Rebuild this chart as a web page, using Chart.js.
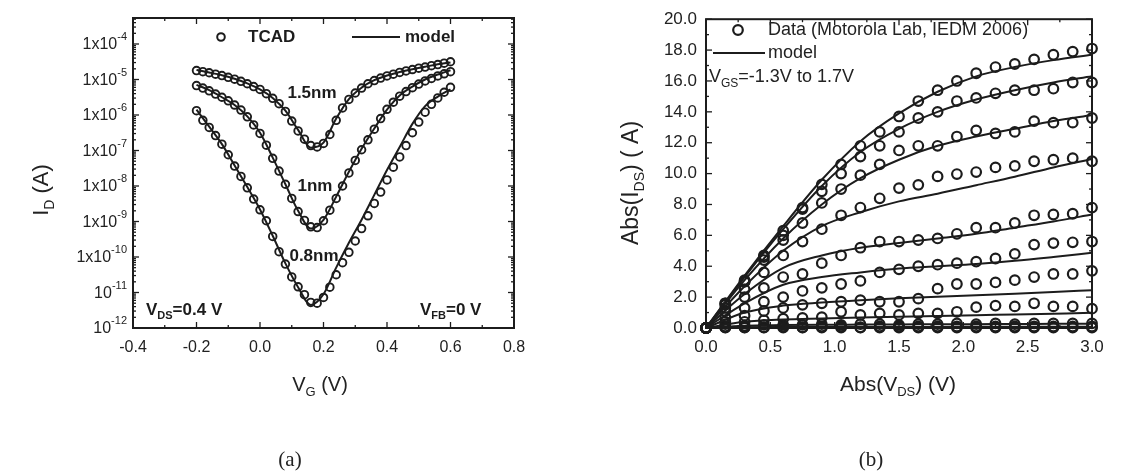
<!DOCTYPE html>
<html>
<head>
<meta charset="utf-8">
<script src="https://cdn.jsdelivr.net/npm/chart.js@4.4.0/dist/chart.umd.min.js"></script>
<style>
  body { margin: 0; background: #fff; }
  #wrap { position: relative; width: 1140px; height: 473px; overflow: hidden; }
  canvas { position: absolute; top: 0; }
</style>
</head>
<body>
<div id="wrap">
  <canvas id="chartA" width="560" height="473" style="left:0"></canvas>
  <canvas id="chartB" width="580" height="473" style="left:560px"></canvas>
</div>
<script>
// ---------- panel (a): I_D vs V_G, three oxide thicknesses ----------
const vg = [-0.20,-0.18,-0.16,-0.14,-0.12,-0.10,-0.08,-0.06,-0.04,-0.02,0.00,0.02,0.04,0.06,0.08,0.10,0.12,0.14,0.16,0.18,
            0.20,0.22,0.24,0.26,0.28,0.30,0.32,0.34,0.36,0.38,0.40,0.42,0.44,0.46,0.48,0.50,0.52,0.54,0.56,0.58,0.60];
const tcad15 = [1.78e-5,1.66e-5,1.55e-5,1.41e-5,1.29e-5,1.15e-5,1.02e-5,8.91e-6,7.59e-6,6.31e-6,5.25e-6,3.98e-6,2.95e-6,2.09e-6,1.26e-6,6.76e-7,3.55e-7,2.09e-7,1.38e-7,1.26e-7,
                1.58e-7,2.82e-7,7.08e-7,1.58e-6,2.75e-6,4.17e-6,5.75e-6,7.59e-6,9.33e-6,1.10e-5,1.26e-5,1.41e-5,1.58e-5,1.74e-5,1.91e-5,2.09e-5,2.24e-5,2.45e-5,2.63e-5,2.88e-5,3.16e-5];
const tcad10 = [6.76e-6,5.75e-6,4.79e-6,3.89e-6,3.16e-6,2.51e-6,1.91e-6,1.38e-6,8.91e-7,5.25e-7,3.02e-7,1.41e-7,6.03e-8,2.63e-8,1.12e-8,4.47e-9,1.91e-9,1.07e-9,7.08e-10,6.76e-10,
                1.05e-9,2.09e-9,4.47e-9,1.0e-8,2.34e-8,5.25e-8,1.05e-7,2.0e-7,3.98e-7,7.94e-7,1.45e-6,2.29e-6,3.39e-6,4.57e-6,5.89e-6,7.41e-6,9.12e-6,1.07e-5,1.26e-5,1.45e-5,1.66e-5];
const tcad08 = [1.32e-6,7.08e-7,4.47e-7,2.63e-7,1.51e-7,7.59e-8,3.63e-8,1.86e-8,8.91e-9,4.27e-9,2.14e-9,1.05e-9,3.80e-10,1.41e-10,6.31e-11,2.75e-11,1.45e-11,8.71e-12,5.25e-12,5.01e-12,
                7.24e-12,1.41e-11,3.16e-11,6.92e-11,1.35e-10,2.82e-10,6.31e-10,1.45e-9,3.24e-9,6.76e-9,1.48e-8,3.39e-8,6.61e-8,1.38e-7,3.16e-7,6.31e-7,1.20e-6,2.0e-6,3.02e-6,4.37e-6,6.03e-6];

const vgModel = [-0.20,-0.16,-0.12,-0.08,-0.04,0.00,0.04,0.08,0.12,0.16,0.20,0.24,0.28,0.32,0.36,0.40,0.44,0.48,0.52,0.56,0.60];
const model15 = [1.86e-5,1.58e-5,1.32e-5,1.05e-5,7.76e-6,5.25e-6,3.02e-6,1.32e-6,3.80e-7,1.20e-7,1.66e-7,7.94e-7,2.82e-6,5.89e-6,9.55e-6,1.29e-5,1.62e-5,1.95e-5,2.29e-5,2.69e-5,3.02e-5];
const model10 = [7.08e-6,5.01e-6,3.16e-6,1.91e-6,9.12e-7,3.16e-7,6.31e-8,1.12e-8,2.0e-9,6.31e-10,1.12e-9,5.01e-9,2.51e-8,1.12e-7,4.17e-7,1.41e-6,3.55e-6,6.31e-6,1.0e-5,1.38e-5,1.82e-5];
const model08 = [1.41e-6,4.68e-7,1.51e-7,3.80e-8,9.33e-9,2.19e-9,3.98e-10,6.61e-11,1.41e-11,4.47e-12,8.91e-12,5.01e-11,2.51e-10,1.12e-9,5.62e-9,2.82e-8,1.26e-7,5.62e-7,1.78e-6,3.31e-6,5.25e-6];

const decadesA = [-4,-5,-6,-7,-8,-9,-10,-11,-12];

// ---------- panel (b): Abs(I_DS) vs Abs(V_DS), V_GS = -1.3 V .. 1.7 V ----------
const vds = [0,0.15,0.30,0.45,0.60,0.75,0.90,1.05,1.20,1.35,1.50,1.65,1.80,1.95,2.10,2.25,2.40,2.55,2.70,2.85,3.00];
const ids_p17 = [0,1.6,3.1,4.7,6.3,7.8,9.3,10.6,11.8,12.7,13.7,14.7,15.4,16.0,16.5,16.9,17.1,17.4,17.7,17.9,18.1];
const ids_p14 = [0,1.6,3.0,4.6,6.0,7.7,8.85,10.0,11.1,11.8,12.7,13.6,14.0,14.7,14.9,15.2,15.4,15.4,15.5,15.9,15.9];
const ids_p11 = [0,1.5,3.0,4.4,5.7,6.8,8.1,9.0,9.9,10.6,11.5,11.8,11.8,12.4,12.8,12.6,12.7,13.4,13.3,13.3,13.6];
const ids_p08 = [0,1.3,2.5,3.6,4.7,5.6,6.4,7.3,7.8,8.4,9.06,9.27,9.82,9.97,10.1,10.4,10.5,10.8,10.9,11.0,10.8];
const ids_p05 = [0,1.1,2.0,2.6,3.3,3.5,4.2,4.7,5.2,5.6,5.6,5.7,5.8,6.1,6.5,6.5,6.8,7.3,7.35,7.4,7.8];
const ids_p02 = [0,0.7,1.3,1.7,2.0,2.4,2.6,2.85,3.05,3.6,3.8,4.0,4.1,4.2,4.3,4.5,4.8,5.4,5.5,5.55,5.6];
const ids_m01 = [0,0.4,0.8,1.1,1.3,1.5,1.6,1.7,1.8,1.7,1.7,1.9,2.55,2.85,2.85,2.95,3.1,3.3,3.5,3.5,3.7];
const ids_m04 = [0,0.25,0.4,0.5,0.6,0.65,0.7,1.05,0.85,0.95,0.85,0.95,0.95,1.05,1.35,1.45,1.4,1.6,1.4,1.4,1.25];
const ids_m07 = [0,0.1,0.15,0.2,0.2,0.2,0.25,0.2,0.25,0.25,0.2,0.25,0.25,0.3,0.25,0.3,0.25,0.3,0.3,0.3,0.3];
const ids_m10 = [0,0.05,0.05,0.05,0.1,0.05,0.1,0.1,0.05,0.1,0.1,0.1,0.1,0.1,0.1,0.1,0.1,0.1,0.1,0.1,0.1];
const ids_m13 = [0,0.02,0.02,0.02,0.02,0.02,0.02,0.02,0.02,0.02,0.02,0.02,0.02,0.02,0.02,0.02,0.02,0.02,0.02,0.02,0.02];

const vdsModel = [0,0.3,0.6,0.9,1.2,1.5,1.8,2.1,2.4,2.7,3.0];
const fit_p17 = [0,3.4,6.6,9.6,12.1,13.9,15.3,16.3,16.9,17.35,17.7];
const fit_p14 = [0,3.3,6.4,9.2,11.4,12.9,14.0,14.8,15.4,15.9,16.3];
const fit_p11 = [0,3.1,5.8,8.0,9.7,10.9,11.8,12.4,12.9,13.4,13.8];
const fit_p08 = [0,2.7,5.0,6.6,7.5,8.2,8.7,9.25,9.8,10.4,10.95];
const fit_p05 = [0,2.2,3.9,4.7,5.2,5.5,5.8,6.1,6.5,6.9,7.35];
const fit_p02 = [0,1.6,2.8,3.3,3.6,3.85,4.0,4.15,4.35,4.6,4.87];
const fit_m01 = [0,1.0,1.45,1.65,1.8,1.92,2.02,2.12,2.22,2.33,2.45];
const fit_m04 = [0,0.4,0.55,0.62,0.68,0.73,0.78,0.83,0.88,0.93,0.98];
const fit_m07 = [0,0.15,0.19,0.21,0.22,0.23,0.24,0.25,0.26,0.27,0.28];
const fit_m10 = [0,0.05,0.06,0.06,0.07,0.07,0.07,0.08,0.08,0.08,0.08];
const fit_m13 = [0,0.01,0.01,0.01,0.01,0.02,0.02,0.02,0.02,0.02,0.02];

const INK = '#1c1c1c';
const SANS = '"Liberation Sans", Arial, sans-serif';
const SERIF = '"Liberation Serif", "Times New Roman", serif';

const xy = (xs, ys) => xs.map((x, i) => ({ x: x, y: ys[i] }));

function circles(xs, ys, r, bw) {
  return { data: xy(xs, ys), showLine: false, pointStyle: 'circle', pointRadius: r, pointBorderWidth: bw,
           pointBorderColor: INK, pointBackgroundColor: 'rgba(0,0,0,0)', clip: false };
}
function curve(xs, ys, w) {
  return { data: xy(xs, ys), borderColor: INK, borderWidth: w, pointRadius: 0, fill: false,
           cubicInterpolationMode: 'monotone', clip: false };
}

// text made of pieces [text, font, dy] so that subscripts / superscripts can be set
function rich(ctx, parts, x, y, align) {
  let w = 0;
  parts.forEach(p => { ctx.font = p[1]; w += ctx.measureText(p[0]).width; });
  let cx = align === 'center' ? x - w / 2 : (align === 'right' ? x - w : x);
  ctx.textAlign = 'left';
  ctx.textBaseline = 'middle';
  parts.forEach(p => { ctx.font = p[1]; ctx.fillText(p[0], cx, y + (p[2] || 0)); cx += ctx.measureText(p[0]).width; });
}
function line(ctx, x1, y1, x2, y2) { ctx.beginPath(); ctx.moveTo(x1, y1); ctx.lineTo(x2, y2); ctx.stroke(); }

function ticksX(ctx, sc, a, vals, len) {
  vals.forEach(v => { const p = sc.getPixelForValue(v); line(ctx, p, a.bottom, p, a.bottom - len); line(ctx, p, a.top, p, a.top + len); });
}
function ticksY(ctx, sc, a, vals, len) {
  vals.forEach(v => { const p = sc.getPixelForValue(v); line(ctx, a.left, p, a.left + len, p); line(ctx, a.right, p, a.right - len, p); });
}
const fmt1 = v => (Math.abs(v) < 1e-9 ? '0.0' : v.toFixed(1));
const noGrid = { display: false, drawTicks: false };

// ---------- chart (a) ----------
const decorA = {
  id: 'decorA',
  afterDraw(chart) {
    const ctx = chart.ctx, a = chart.chartArea, sx = chart.scales.x, sy = chart.scales.y;
    ctx.save();
    ctx.strokeStyle = INK; ctx.fillStyle = INK;
    ctx.lineWidth = 1.3;
    ticksX(ctx, sx, a, [-0.4,-0.2,0,0.2,0.4,0.6,0.8], 6);
    ticksX(ctx, sx, a, [-0.3,-0.1,0.1,0.3,0.5,0.7], 3);
    ticksY(ctx, sy, a, decadesA.map(e => Math.pow(10, e)), 6);
    const minors = [];
    for (let e = -12; e <= -4; e++) for (let k = 2; k <= 9; k++) { const v = k * Math.pow(10, e); if (v < sy.max) minors.push(v); }
    ticksY(ctx, sy, a, minors, 3);
    ctx.lineWidth = 2;
    ctx.strokeRect(a.left, a.top, a.right - a.left, a.bottom - a.top);

    // log tick labels with superscript exponents
    ctx.fillStyle = '#222';
    decadesA.forEach(e => {
      const p = sy.getPixelForValue(Math.pow(10, e));
      const base = e >= -10 ? '1x10' : '10';
      rich(ctx, [[base, '16px ' + SANS, 1], [String(e), '11px ' + SANS, -7]], 127, p, 'right');
    });

    // axis titles
    rich(ctx, [['V', '20px ' + SANS], ['G', '13px ' + SANS, 7], [' (V)', '20px ' + SANS]], 320, 385, 'center');
    ctx.save();
    ctx.translate(42, 190);
    ctx.rotate(-Math.PI / 2);
    rich(ctx, [['I', '22px ' + SANS], ['D', '14px ' + SANS, 8], [' (A)', '22px ' + SANS]], 0, 0, 'center');
    ctx.restore();

    // legend
    const B = 'bold 17px ' + SANS;
    ctx.fillStyle = INK;
    ctx.lineWidth = 2;
    ctx.beginPath(); ctx.arc(221, 37, 3.8, 0, Math.PI * 2); ctx.stroke();
    rich(ctx, [['TCAD', B]], 248, 37, 'left');
    line(ctx, 352, 37, 400, 37);
    rich(ctx, [['model', B]], 405, 37, 'left');

    // curve labels and conditions
    rich(ctx, [['1.5nm', B]], 312, 93, 'center');
    rich(ctx, [['1nm', B]], 315, 186, 'center');
    rich(ctx, [['0.8nm', B]], 314, 256, 'center');
    rich(ctx, [['V', B], ['DS', 'bold 11px ' + SANS, 6], ['=0.4 V', B]], 146, 310, 'left');
    rich(ctx, [['V', B], ['FB', 'bold 11px ' + SANS, 6], ['=0 V', B]], 420, 310, 'left');

    ctx.fillStyle = '#222';
    rich(ctx, [['(a)', '21px ' + SERIF]], 290, 460, 'center');
    ctx.restore();
  }
};

new Chart(document.getElementById('chartA'), {
  type: 'line',
  data: {
    datasets: [
      circles(vg, tcad15, 3.8, 1.9),
      circles(vg, tcad10, 3.8, 1.9),
      circles(vg, tcad08, 3.8, 1.9),
      curve(vgModel, model15, 2),
      curve(vgModel, model10, 2),
      curve(vgModel, model08, 2)
    ]
  },
  options: {
    responsive: false,
    animation: false,
    layout: { padding: { left: 0, right: 46, top: 18, bottom: 0 } },
    plugins: { legend: { display: false }, tooltip: { enabled: false } },
    scales: {
      x: {
        type: 'linear', min: -0.4, max: 0.8,
        grid: noGrid, border: { display: false },
        ticks: { stepSize: 0.2, callback: fmt1, color: '#222', padding: 10, maxRotation: 0,
                 font: { family: SANS, size: 16 } },
        afterFit: s => { s.height = 145; }
      },
      y: {
        type: 'logarithmic', min: 1e-12, max: 5.4e-4,
        grid: noGrid, border: { display: false },
        ticks: { display: false },
        afterFit: s => { s.width = 133; }
      }
    }
  },
  plugins: [decorA]
});

// ---------- chart (b) ----------
const decorB = {
  id: 'decorB',
  afterDraw(chart) {
    const ctx = chart.ctx, a = chart.chartArea, sx = chart.scales.x, sy = chart.scales.y;
    ctx.save();
    ctx.strokeStyle = INK; ctx.fillStyle = '#222';
    ctx.lineWidth = 1.3;
    ticksX(ctx, sx, a, [0,0.5,1,1.5,2,2.5,3], 6);
    ticksX(ctx, sx, a, [0.25,0.75,1.25,1.75,2.25,2.75], 3);
    ticksY(ctx, sy, a, [0,2,4,6,8,10,12,14,16,18,20], 6);
    ticksY(ctx, sy, a, [1,3,5,7,9,11,13,15,17,19], 3);
    ctx.lineWidth = 2;
    ctx.strokeRect(a.left, a.top, a.right - a.left, a.bottom - a.top);

    const F = '18px ' + SANS;
    // legend
    ctx.lineWidth = 2.2;
    ctx.beginPath(); ctx.arc(178, 30, 4.8, 0, Math.PI * 2); ctx.stroke();
    rich(ctx, [['Data (Motorola Lab, IEDM 2006)', F]], 208, 30, 'left');
    ctx.lineWidth = 2;
    line(ctx, 153, 53, 205, 53);
    rich(ctx, [['model', F]], 208, 53, 'left');
    rich(ctx, [['V', F], ['GS', '12px ' + SANS, 7], ['=-1.3V to 1.7V', F]], 149, 77, 'left');

    // axis titles
    rich(ctx, [['Abs(V', '21px ' + SANS], ['DS', '13px ' + SANS, 7], [') (V)', '21px ' + SANS]], 338, 385, 'center');
    ctx.save();
    ctx.translate(72, 183);
    ctx.rotate(-Math.PI / 2);
    rich(ctx, [['Abs(I', '23px ' + SANS], ['DS', '14px ' + SANS, 8], [') ( A)', '23px ' + SANS]], 0, 0, 'center');
    ctx.restore();

    rich(ctx, [['(b)', '21px ' + SERIF]], 311, 460, 'center');
    ctx.restore();
  }
};

const dataB = [ids_p17, ids_p14, ids_p11, ids_p08, ids_p05, ids_p02, ids_m01, ids_m04, ids_m07, ids_m10, ids_m13];
const fitB = [fit_p17, fit_p14, fit_p11, fit_p08, fit_p05, fit_p02, fit_m01, fit_m04, fit_m07, fit_m10, fit_m13];

new Chart(document.getElementById('chartB'), {
  type: 'line',
  data: {
    datasets: fitB.map(f => curve(vdsModel, f, 2)).concat(dataB.map(d => circles(vds, d, 4.8, 2.2)))
  },
  options: {
    responsive: false,
    animation: false,
    layout: { padding: { left: 0, right: 48, top: 15, bottom: 0 } },
    plugins: { legend: { display: false }, tooltip: { enabled: false } },
    scales: {
      x: {
        type: 'linear', min: 0, max: 3,
        grid: noGrid, border: { display: false },
        ticks: { stepSize: 0.5, callback: fmt1, color: '#222', padding: 9, maxRotation: 0,
                 font: { family: SANS, size: 17 } },
        afterFit: s => { s.height = 145; }
      },
      y: {
        type: 'linear', min: 0, max: 20,
        grid: noGrid, border: { display: false },
        ticks: { stepSize: 2, callback: fmt1, color: '#222', padding: 9,
                 font: { family: SANS, size: 17 } },
        afterFit: s => { s.width = 146; }
      }
    }
  },
  plugins: [decorB]
});
</script>
</body>
</html>
